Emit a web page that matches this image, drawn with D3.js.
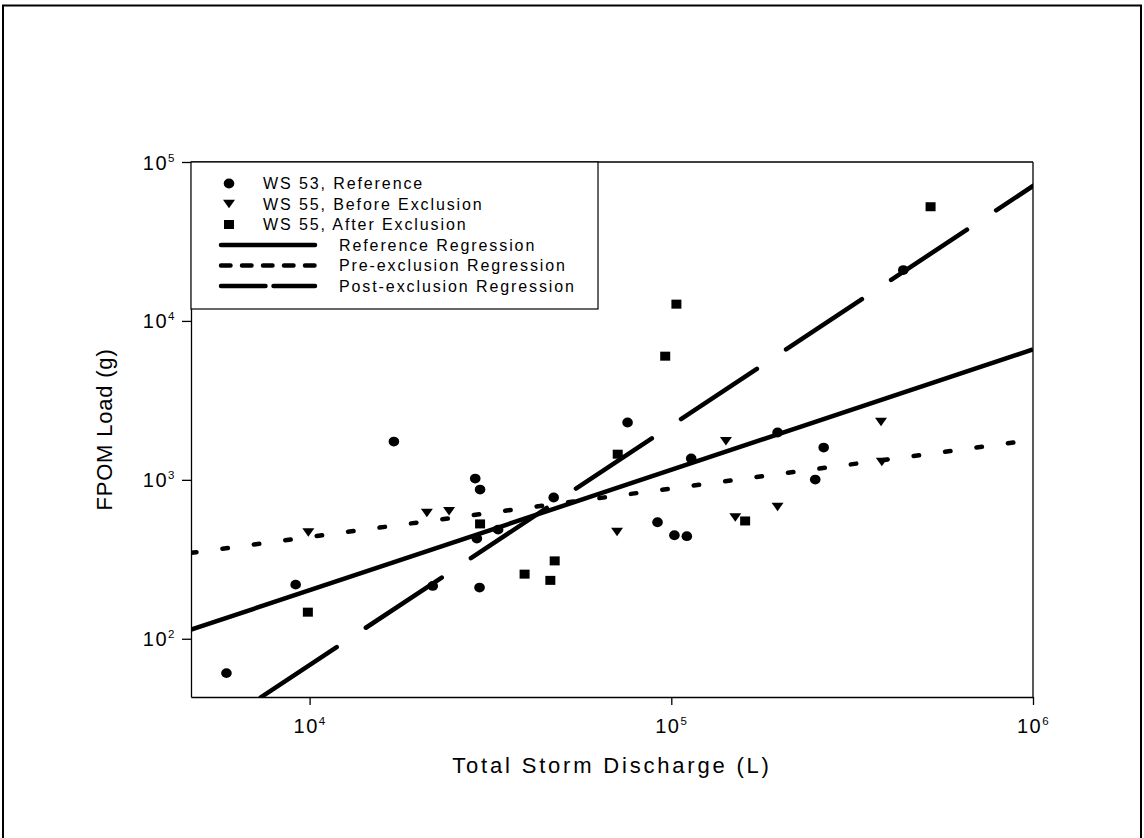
<!DOCTYPE html>
<html>
<head>
<meta charset="utf-8">
<script src="https://cdn.jsdelivr.net/npm/d3@7"></script>
<style>
  body { margin: 0; background: white; }
  svg text { font-family: "Liberation Sans", Arial, sans-serif; fill: black; }
</style>
</head>
<body>
<div id="chart"></div>
<script>
// WS 53 reference storms (discharge L, FPOM g)
var refX = [5890, 17100, 28700, 29600, 47300, 29000, 33200, 9150, 21900, 29500, 75700, 113500, 196700, 263800, 250000, 438000, 91600, 102000, 110400];
var refY = [60.8, 1742, 1019, 869, 774, 427, 486, 219, 215, 210, 2295, 1362, 1985, 1597, 1004, 20900, 541, 448, 442];

// WS 55 before exclusion
var beforeX = [9920, 21100, 24300, 70800, 141600, 380000, 382000, 150300, 196700];
var beforeY = [466, 619, 634, 470, 1750, 2315, 1297, 579, 676];

// WS 55 after exclusion
var afterX = [9890, 29600, 39300, 46300, 47600, 71100, 103300, 96200, 521000, 160000];
var afterY = [147, 528, 255, 233, 309, 1450, 12750, 6000, 52300, 551];

// regression lines, end points
var refLineX = [4700, 1000000];
var refLineY = [114, 6620];
var preLineX = [4700, 1000000];
var preLineY = [347, 1783];
var postLineX = [7330, 1000000];
var postLineY = [42.8, 70700];

var xTicks = [1e4, 1e5, 1e6];
var yTicks = [1e2, 1e3, 1e4, 1e5];

var pointLegend = ["WS 53, Reference", "WS 55, Before Exclusion", "WS 55, After Exclusion"];
var lineLegend = ["Reference Regression", "Pre-exclusion Regression", "Post-exclusion Regression"];

var width = 1144, height = 838;
var plotLeft = 191, plotRight = 1033, plotTop = 162, plotBottom = 697;

var svg = d3.select("#chart").append("svg")
    .attr("width", width)
    .attr("height", height);

svg.append("rect")
    .attr("width", width).attr("height", height)
    .attr("fill", "white");

// outer border
svg.append("rect")
    .attr("x", 3).attr("y", 5.5)
    .attr("width", 1138).attr("height", 850)
    .attr("fill", "none")
    .style("stroke", "black")
    .style("stroke-width", 2);

var x = d3.scaleLog().domain([4700, 1e6]).range([plotLeft, plotRight]);
var y = d3.scaleLog().domain([43, 1e5]).range([plotBottom, plotTop]);

svg.append("clipPath").attr("id", "plotClip")
  .append("rect")
    .attr("x", plotLeft).attr("y", plotTop)
    .attr("width", plotRight - plotLeft).attr("height", plotBottom - plotTop);

function powLabel(sel) {
  sel.each(function(d) {
    var t = d3.select(this).text(null);
    t.append("tspan").text("10");
    t.append("tspan")
        .attr("dy", -8)
        .attr("font-size", 11.5)
        .text(Math.round(Math.log10(d)));
  });
}

var xAxis = svg.append("g")
    .attr("transform", "translate(0," + plotBottom + ")")
    .call(d3.axisBottom(x).tickValues(xTicks).tickSize(8).tickSizeOuter(0).tickPadding(14));
var yAxis = svg.append("g")
    .attr("transform", "translate(" + plotLeft + ",0)")
    .call(d3.axisLeft(y).tickValues(yTicks).tickSize(9).tickSizeOuter(0).tickPadding(6));

[xAxis, yAxis].forEach(function(g) {
  g.attr("font-family", null).attr("font-size", 20);
  g.selectAll("path, line").style("stroke", "black").style("stroke-width", 1.3);
  g.selectAll("text").style("letter-spacing", "1.5px").call(powLabel);
});
yAxis.selectAll("text").attr("dy", "0.35em");

// frame top and right
svg.append("line")
    .attr("x1", plotLeft).attr("x2", plotRight).attr("y1", plotTop).attr("y2", plotTop)
    .style("stroke", "black").style("stroke-width", 1.3);
svg.append("line")
    .attr("x1", plotRight).attr("x2", plotRight).attr("y1", plotTop).attr("y2", plotBottom)
    .style("stroke", "black").style("stroke-width", 1.3);

// axis titles
svg.append("text")
    .attr("x", (plotLeft + plotRight) / 2)
    .attr("y", 773)
    .style("text-anchor", "middle")
    .style("font-size", "22px")
    .style("letter-spacing", "2.8px")
    .text("Total Storm Discharge (L)");

svg.append("text")
    .attr("transform", "translate(112," + ((plotTop + plotBottom) / 2) + ") rotate(-90)")
    .style("text-anchor", "middle")
    .style("font-size", "22px")
    .style("letter-spacing", "0.8px")
    .text("FPOM Load (g)");

// markers
var circle = function(g) {
  g.append("ellipse").attr("rx", 5.3).attr("ry", 4.9).attr("fill", "black");
};
var triangle = function(g) {
  g.append("path").attr("d", "M-6,-4.2L6,-4.2L0,4.3Z").attr("fill", "black");
};
var square = function(g) {
  g.append("rect").attr("x", -5).attr("y", -4.5).attr("width", 10).attr("height", 9).attr("fill", "black");
};

function drawPoints(xs, ys, shape) {
  xs.forEach(function(v, i) {
    var g = svg.append("g")
        .attr("transform", "translate(" + x(v) + "," + y(ys[i]) + ")");
    shape(g);
  });
}
drawPoints(refX, refY, circle);
drawPoints(beforeX, beforeY, triangle);
drawPoints(afterX, afterY, square);

// regression lines
var line = d3.line().x(function(d) { return x(d[0]); }).y(function(d) { return y(d[1]); });
var lines = svg.append("g").attr("clip-path", "url(#plotClip)");

lines.append("path")
    .attr("d", line(d3.zip(refLineX, refLineY)))
    .attr("fill", "none").style("stroke", "black").style("stroke-width", 4.5);
lines.append("path")
    .attr("d", line(d3.zip(preLineX, preLineY)))
    .attr("fill", "none").style("stroke", "black").style("stroke-width", 4.5)
    .style("stroke-linecap", "round").style("stroke-dasharray", "5.5,26.2");
lines.append("path")
    .attr("d", line(d3.zip(postLineX, postLineY)))
    .attr("fill", "none").style("stroke", "black").style("stroke-width", 4.5)
    .style("stroke-linecap", "round").style("stroke-dasharray", "91,35");

// legend
var legend = svg.append("g");
legend.append("rect")
    .attr("x", plotLeft).attr("y", plotTop)
    .attr("width", 407).attr("height", 147)
    .attr("fill", "white")
    .style("stroke", "black").style("stroke-width", 1.2);

var rowY = function(i) { return 183.5 + i * 20.5; };
var shapes = [circle, triangle, square];
pointLegend.forEach(function(label, i) {
  var g = legend.append("g").attr("transform", "translate(229," + rowY(i) + ")");
  shapes[i](g);
  legend.append("text")
      .attr("x", 263).attr("y", rowY(i) + 5.8)
      .style("font-size", "16px")
      .style("letter-spacing", "1.9px")
      .text(label);
});
var legendDash = [null, "9.5,11.5", "44.5,8"];
lineLegend.forEach(function(label, i) {
  var ry = rowY(i + 3);
  legend.append("line")
      .attr("x1", 221).attr("x2", 315).attr("y1", ry).attr("y2", ry)
      .style("stroke", "black").style("stroke-width", 4.5)
      .style("stroke-linecap", "round")
      .style("stroke-dasharray", legendDash[i]);
  legend.append("text")
      .attr("x", 339).attr("y", ry + 5.8)
      .style("font-size", "16px")
      .style("letter-spacing", "1.9px")
      .text(label);
});
</script>
</body>
</html>
